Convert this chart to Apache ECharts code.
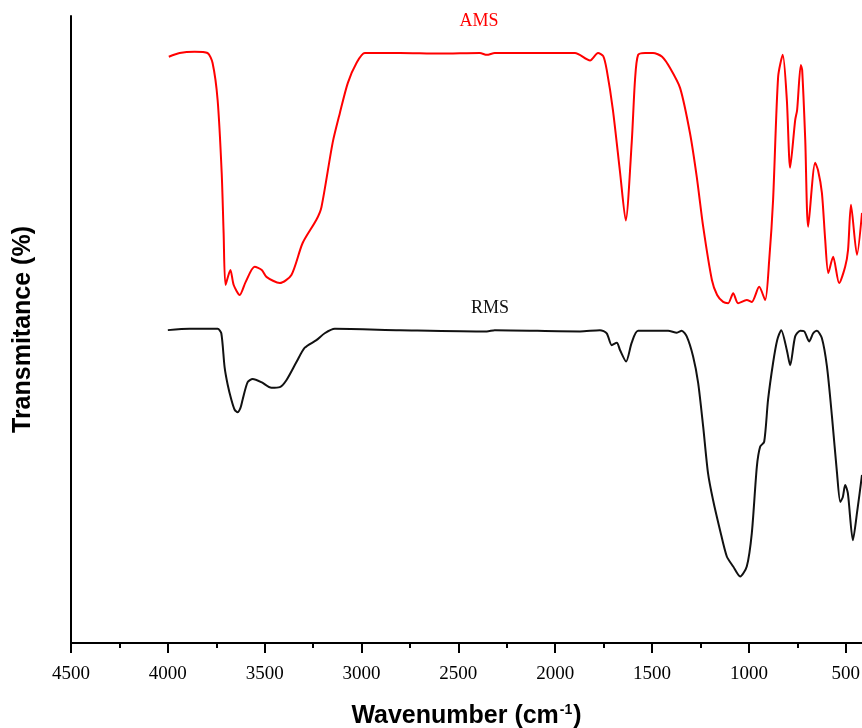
<!DOCTYPE html>
<html>
<head>
<meta charset="utf-8">
<script src="https://cdn.jsdelivr.net/npm/echarts@6/dist/echarts.min.js"></script>
<style>
  html, body { margin: 0; padding: 0; background: #fff; overflow: hidden; }
  #chart { width: 862px; height: 728px; }
</style>
</head>
<body>
<div id="chart"></div>
<script>
// wavenumber (cm-1) and transmittance
const amsWavenumber = [3995, 3939, 3862, 3795, 3769, 3743, 3722, 3712, 3702, 3677, 3660, 3629, 3598, 3552,
  3515, 3491, 3422, 3362, 3304, 3233, 3207, 3149, 3112, 3071, 3026, 2983, 2802, 2596, 2389, 2353, 2312,
  1975, 1898, 1820, 1779, 1752, 1734, 1702, 1665, 1636, 1605, 1588, 1572, 1536, 1495, 1448, 1407, 1355,
  1304, 1269, 1236, 1191, 1164, 1133, 1107, 1081, 1056, 1011, 985, 947, 916, 895, 875, 849, 825, 804,
  787, 761, 751, 732, 725, 709, 694, 658, 643, 623, 606, 590, 565, 534, 503, 488, 473, 442, 416];
const amsTransmittance = [93.5, 94.1, 94.3, 94.1, 92.5, 86.6, 75.0, 65.4, 57.1, 59.5, 57.1, 55.5, 57.6, 60.0,
  59.5, 58.4, 57.4, 58.7, 63.8, 67.5, 69.5, 79.8, 84.5, 89.3, 92.5, 94.1, 94.1, 94.0, 94.1, 93.8, 94.1,
  94.1, 94.1, 92.9, 94.1, 93.6, 91.4, 85.0, 75.0, 67.4, 79.8, 89.8, 93.8, 94.1, 94.1, 93.5, 91.7, 88.5,
  81.3, 74.3, 66.4, 57.9, 55.5, 54.4, 54.2, 55.8, 54.2, 54.7, 54.4, 56.8, 54.7, 61.1, 70.7, 90.3, 93.8, 86.6,
  75.8, 83.4, 85.0, 92.2, 91.4, 80.2, 66.4, 76.6, 75.4, 71.8, 64.3, 59.0, 61.6, 57.4, 60.0, 62.7, 69.9, 61.9, 68.6];

const rmsWavenumber = [4000, 3888, 3743, 3724, 3707, 3691, 3672, 3655, 3640, 3625, 3614, 3588, 3562, 3517,
  3465, 3422, 3388, 3336, 3293, 3233, 3190, 3138, 2802, 2353, 2312, 1872, 1769, 1734, 1708, 1682, 1665,
  1634, 1605, 1572, 1417, 1372, 1347, 1321, 1288, 1262, 1236, 1211, 1185, 1149, 1114, 1081, 1045, 1011,
  985, 959, 942, 921, 901, 875, 854, 833, 804, 787, 761, 735, 714, 689, 668, 649, 623, 597, 571, 545,
  528, 515, 503, 489, 463, 442, 416];
const rmsTransmittance = [49.9, 50.1, 50.1, 49.4, 44.0, 41.2, 38.8, 37.2, 36.8, 37.5, 38.8, 41.6, 42.1, 41.6,
  40.7, 40.8, 41.9, 44.8, 47.1, 48.3, 49.4, 50.1, 49.9, 49.7, 49.9, 49.7, 49.9, 49.4, 47.5, 47.9, 46.7,
  44.9, 47.9, 49.8, 49.8, 49.5, 49.8, 48.9, 45.7, 41.5, 34.5, 27.1, 22.8, 18.0, 13.8, 12.2, 10.6, 12.2,
  17.5, 28.1, 31.3, 32.1, 38.8, 44.7, 48.3, 49.9, 46.7, 44.3, 48.9, 49.8, 49.7, 48.1, 49.4, 49.8, 48.6,
  44.1, 36.1, 27.1, 22.5, 23.3, 25.2, 23.9, 16.4, 20.7, 26.8];

const majorTicks = [4500, 4000, 3500, 3000, 2500, 2000, 1500, 1000, 500];
const minorTicks = [4250, 3750, 3250, 2750, 2250, 1750, 1250, 750];

const pairs = (xs, ys) => xs.map((x, i) => [x, ys[i]]);

const chart = echarts.init(document.getElementById('chart'));

const option = {
  animation: false,
  grid: { left: 71, right: 0, top: 16, bottom: 85, containLabel: false, outerBoundsMode: 'none' },
  xAxis: [
    {
      type: 'value',
      inverse: true,
      min: 416,
      max: 4500,
      name: '{b|Wavenumber (cm}{s|-1}{b|)}',
      nameLocation: 'middle',
      nameGap: 60,
      nameTextStyle: {
        rich: {
          b: { fontFamily: '"Liberation Sans", Arial', fontWeight: 'bold', fontSize: 25, color: '#000' },
          s: { fontFamily: '"Liberation Sans", Arial', fontWeight: 'bold', fontSize: 14, color: '#000',
               padding: [0, 1, 12, 1] }
        }
      },
      axisLine: { lineStyle: { color: '#000', width: 2 } },
      axisTick: { customValues: majorTicks, length: 10, lineStyle: { color: '#000', width: 2 } },
      axisLabel: {
        customValues: majorTicks,
        formatter: v => String(v),
        margin: 22,
        fontFamily: '"Liberation Serif", "Times New Roman"',
        fontSize: 19,
        color: '#000'
      },
      splitLine: { show: false }
    },
    {
      type: 'value',
      inverse: true,
      position: 'bottom',
      min: 416,
      max: 4500,
      axisLine: { show: false },
      axisTick: { customValues: minorTicks, length: 5, lineStyle: { color: '#000', width: 2 } },
      axisLabel: { show: false },
      splitLine: { show: false }
    }
  ],
  yAxis: {
    type: 'value',
    min: 0,
    max: 100,
    name: 'Transmitance (%)',
    nameLocation: 'middle',
    nameGap: 35,
    nameRotate: 90,
    nameTextStyle: { fontFamily: '"Liberation Sans", Arial', fontWeight: 'bold', fontSize: 25, color: '#000' },
    axisLine: { show: true, lineStyle: { color: '#000', width: 2 } },
    axisTick: { show: false },
    axisLabel: { show: false },
    splitLine: { show: false }
  },
  graphic: [
    { type: 'text', x: 479, y: 21,
      style: { text: 'AMS', fill: '#ff0000', font: '18px "Liberation Serif"', align: 'center', verticalAlign: 'middle' } },
    { type: 'text', x: 490, y: 308,
      style: { text: 'RMS', fill: '#111', font: '18px "Liberation Serif"', align: 'center', verticalAlign: 'middle' } }
  ],
  series: [
    {
      name: 'AMS',
      type: 'line',
      xAxisIndex: 0,
      showSymbol: false,
      smooth: 0.25,
      lineStyle: { color: '#ff0000', width: 2 },
      data: pairs(amsWavenumber, amsTransmittance)
    },
    {
      name: 'RMS',
      type: 'line',
      xAxisIndex: 0,
      showSymbol: false,
      smooth: 0.25,
      lineStyle: { color: '#111', width: 2 },
      data: pairs(rmsWavenumber, rmsTransmittance)
    }
  ]
};

chart.setOption(option);
</script>
</body>
</html>
